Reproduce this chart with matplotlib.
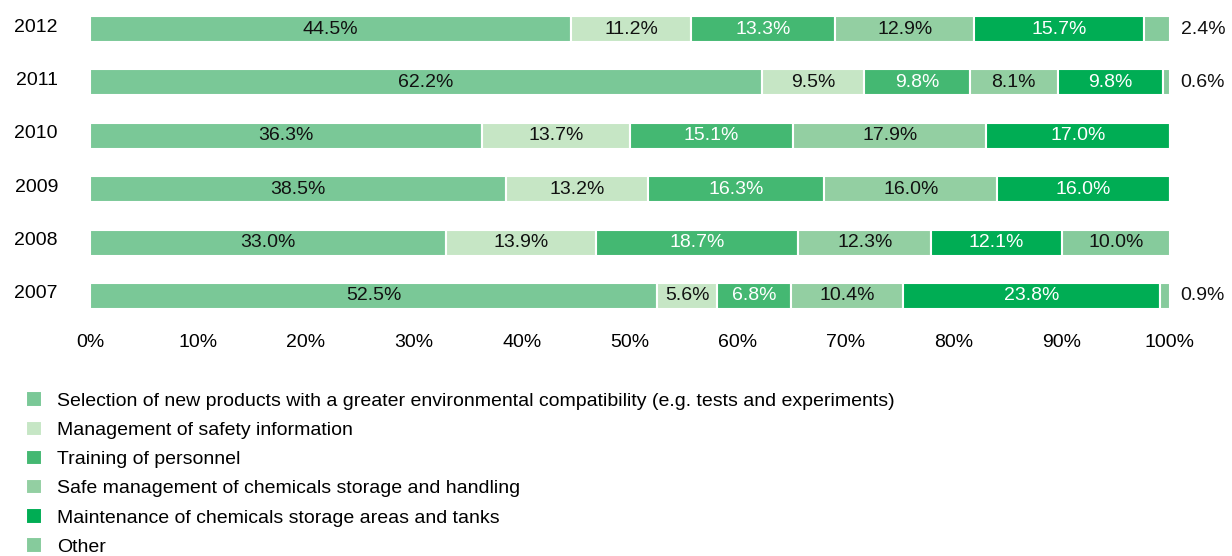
import matplotlib
matplotlib.use("Agg")
import matplotlib.pyplot as plt
import matplotlib.transforms as mtransforms
import numpy as np

plt.rcParams['font.family'] = ['Liberation Sans', 'DejaVu Sans']

# Data
years = ["2012", "2011", "2010", "2009", "2008", "2007"]
categories = [
    "Selection of new products with a greater environmental compatibility (e.g. tests and experiments)",
    "Management of safety information",
    "Training of personnel",
    "Safe management of chemicals storage and handling",
    "Maintenance of chemicals storage areas and tanks",
    "Other",
]
selection = [44.5, 62.2, 36.3, 38.5, 33.0, 52.5]
safety_info = [11.2, 9.5, 13.7, 13.2, 13.9, 5.6]
training = [13.3, 9.8, 15.1, 16.3, 18.7, 6.8]
safe_mgmt = [12.9, 8.1, 17.9, 16.0, 12.3, 10.4]
maintenance = [15.7, 9.8, 17.0, 16.0, 12.1, 23.8]
other = [2.4, 0.6, 0.0, 0.0, 10.0, 0.9]

series = [selection, safety_info, training, safe_mgmt, maintenance, other]
colors = ["#7ac897", "#c6e6c5", "#44b872", "#93cfa2", "#00ad54", "#86cb9c"]
text_colors = ["#111111", "#111111", "white", "#111111", "white", "#111111"]
fs = 14

fig = plt.figure(figsize=(12.32, 5.56), dpi=100)
ax = fig.add_axes([0.073, 1 - 322.7 / 556, 0.8766, 320.4 / 556])

y = np.arange(len(years))[::-1]
left = np.zeros(len(years))
handles = []
for k, vals in enumerate(series):
    vals = np.array(vals)
    bars = ax.barh(y, vals, left=left, height=0.49, color=colors[k],
                   edgecolor="white", linewidth=1.5, label=categories[k])
    handles.append(bars)
    for i, v in enumerate(vals):
        if v == 0:
            continue
        if v < 3:
            # tiny segments get their label outside the bar
            ax.text(101, y[i], f"{v:.1f}%", ha="left", va="center",
                    fontsize=fs, color="#111111")
        else:
            ax.text(left[i] + v / 2, y[i], f"{v:.1f}%", ha="center",
                    va="center", fontsize=fs, color=text_colors[k])
    left += vals

ax.set_xlim(0, 100)
ax.set_ylim(-0.5, 5.5)
ax.set_yticks(y)
ax.set_yticklabels(years, fontsize=fs)
ax.set_xticks(np.arange(0, 101, 10))
ax.set_xticklabels([f"{t}%" for t in range(0, 101, 10)], fontsize=fs)
ax.tick_params(axis="both", length=0)
ax.tick_params(axis="y", pad=23)
ax.tick_params(axis="x", pad=8)
for s in ax.spines.values():
    s.set_visible(False)

# year labels sit a little above the bar centres
shift = mtransforms.ScaledTranslation(0, 4 / 100, fig.dpi_scale_trans)
for lbl in ax.get_yticklabels():
    lbl.set_transform(lbl.get_transform() + shift)

fig.legend(handles=handles, labels=categories, loc="upper left",
           bbox_to_anchor=(0.021, 0.296), frameon=False, fontsize=fs,
           handlelength=0.85, handleheight=0.85, handletextpad=0.75,
           labelspacing=0.55, borderaxespad=0, borderpad=0)

fig.savefig("out.png", dpi=100)
